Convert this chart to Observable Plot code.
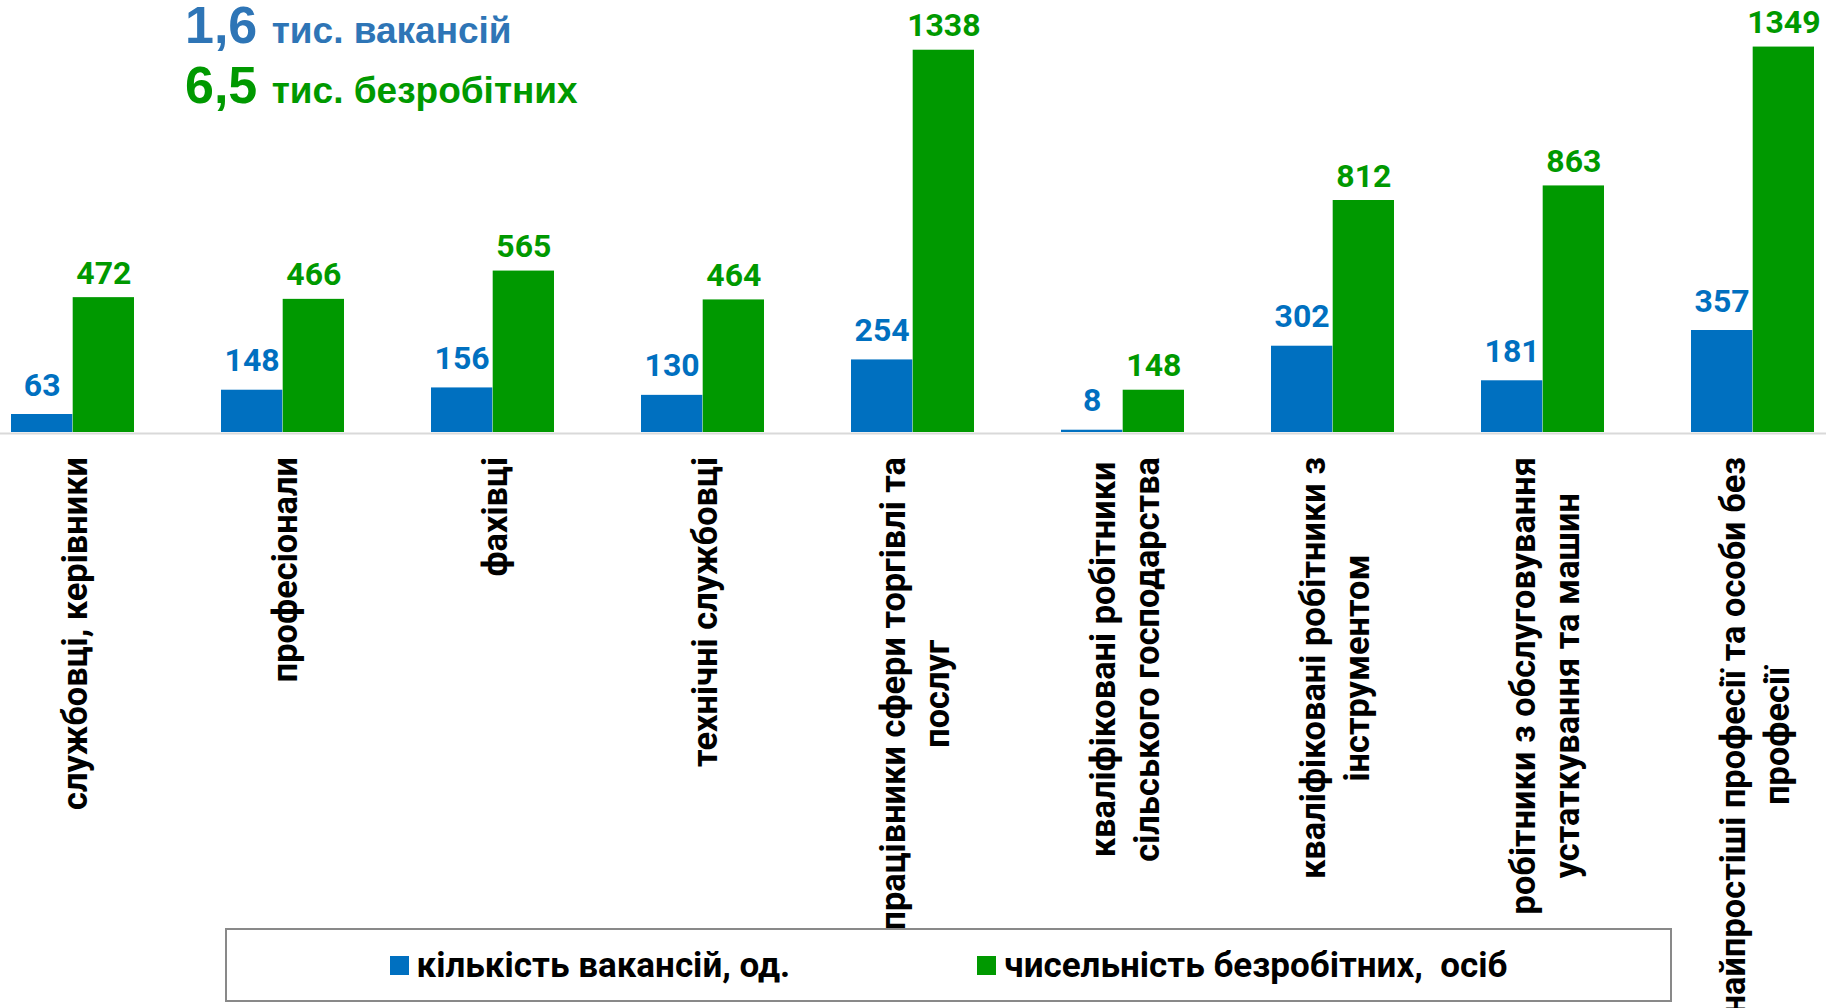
<!DOCTYPE html>
<html>
<head>
<meta charset="utf-8">
<script src="https://cdn.jsdelivr.net/npm/d3@7"></script>
<script src="https://cdn.jsdelivr.net/npm/@observablehq/plot@0.6"></script>
<style>
  html, body { margin: 0; padding: 0; background: #fff; }
  #wrap { position: relative; width: 1826px; height: 1008px; overflow: hidden; background: #fff; }
  #chart { position: absolute; left: 0; top: 0; }
  #titles { position: absolute; left: 0; top: 0; }
  #legend {
    position: absolute; left: 225px; top: 928px; width: 1443px; height: 70px;
    border: 2px solid #898989; background: #fff;
    display: flex; align-items: center; justify-content: center; gap: 187px;
    font-family: Roboto, "Noto Sans", sans-serif; font-weight: bold; font-size: 35px; color: #000;
  }
  #legend .item { display: flex; align-items: center; gap: 8px; white-space: pre; }
  #legend .sw { width: 19px; height: 19px; display: inline-block; }
</style>
</head>
<body>
<div id="wrap">
  <div id="chart"></div>
  <div id="titles"></div>
  <div id="legend"></div>
</div>
<script>
// ---- data ----
const categories = [
  "службовці, керівники",
  "професіонали",
  "фахівці",
  "технічні службовці",
  "працівники сфери торгівлі та\nпослуг",
  "кваліфіковані робітники\nсільського господарства",
  "кваліфіковані робітники з\nінструментом",
  "робітники з обслуговування\nустаткування та машин",
  "найпростіші професії та особи без\nпрофесії"
];
const vacancies  = [63, 148, 156, 130, 254, 8, 302, 181, 357];
const unemployed = [472, 466, 565, 464, 1338, 148, 812, 863, 1349];
const seriesNames = ["кількість вакансій, од.", "чисельність безробітних,  осіб"];
const seriesColors = ["#0070C0", "#009900"];
const titleNumbers = ["1,6", "6,5"];
const titleTexts = ["тис. вакансій", "тис. безробітних"];
const titleColors = ["#2E75B6", "#009900"];

// ---- layout ----
const W = 1826, H = 1008;
const xRange = [-32.75, 1858.05];
const padInner = 0.4127;
const band = d3.scaleBand().domain(categories).range(xRange).paddingInner(padInner).paddingOuter(padInner / 2);
const bw = band.bandwidth();

const vacData = categories.map((c, i) => ({cat: c, v: vacancies[i]}));
const unData = categories.map((c, i) => ({cat: c, v: unemployed[i]}));

const font = "Roboto, 'Noto Sans', sans-serif";

const plot = Plot.plot({
  width: W,
  height: H,
  marginTop: 32,
  marginBottom: H - 432,
  marginLeft: 0,
  marginRight: 0,
  style: {fontFamily: font, background: "transparent", overflow: "hidden"},
  x: {domain: categories, range: xRange, paddingInner: padInner, paddingOuter: padInner / 2, axis: null},
  y: {domain: [0, 1400], axis: null},
  marks: [
    Plot.ruleY([0], {stroke: "#d9d9d9", strokeWidth: 2, dy: 1}),
    Plot.barY(vacData, {x: "cat", y: "v", fill: seriesColors[0], insetRight: bw / 2}),
    Plot.barY(unData, {x: "cat", y: "v", fill: seriesColors[1], insetLeft: bw / 2}),
    Plot.text(vacData, {x: "cat", y: "v", text: d => String(d.v), dx: -bw / 4, dy: -19, lineAnchor: "bottom",
      fill: seriesColors[0], fontSize: 32, fontWeight: "bold", fontFamily: font}),
    Plot.text(unData, {x: "cat", y: "v", text: d => String(d.v), dx: bw / 4, dy: -14, lineAnchor: "bottom",
      fill: seriesColors[1], fontSize: 32, fontWeight: "bold", fontFamily: font}),
    Plot.text(categories, {x: d => d, text: d => d, frameAnchor: "bottom", dy: 24.5, rotate: -90,
      textAnchor: "middle", lineAnchor: "middle", lineHeight: 1.29,
      fill: "#000", fontSize: 34.4, fontWeight: "bold", fontFamily: font})
  ]
});
document.getElementById("chart").appendChild(plot);

// shift each rotated label block down by half its longest line,
// so that the block starts just below the axis (as in the original)
function alignLabels() {
  d3.select(plot).selectAll("text")
    .filter(function () { return (this.getAttribute("transform") || "").includes("rotate"); })
    .each(function () {
      let L = 0;
      const spans = this.querySelectorAll("tspan");
      if (spans.length) spans.forEach(s => { L = Math.max(L, s.getComputedTextLength()); });
      else L = this.getComputedTextLength();
      if (!L) L = this.getBBox().width;
      const t = this.getAttribute("data-t0") || this.getAttribute("transform") || "";
      this.setAttribute("data-t0", t);
      this.setAttribute("transform", `translate(0,${(L / 2).toFixed(2)}) ${t}`);
    });
}
alignLabels();
if (document.fonts && document.fonts.ready) document.fonts.ready.then(alignLabels);

// ---- titles ----
const tsvg = d3.select("#titles").append("svg").attr("width", W).attr("height", 130);
const baselines = [42.7, 103.3];
titleNumbers.forEach((num, i) => {
  const t = tsvg.append("text")
    .attr("x", 185).attr("y", baselines[i])
    .attr("fill", titleColors[i])
    .attr("font-family", "'Liberation Sans', Arial, sans-serif")
    .attr("font-weight", "bold");
  t.append("tspan").attr("font-size", 52).text(num + " ");
  t.append("tspan").attr("font-size", 37).text(titleTexts[i]);
});

// ---- legend ----
const leg = d3.select("#legend");
seriesNames.forEach((name, i) => {
  const it = leg.append("div").attr("class", "item");
  it.append("span").attr("class", "sw").style("background", seriesColors[i]);
  it.append("span").text(name);
});
</script>
</body>
</html>
